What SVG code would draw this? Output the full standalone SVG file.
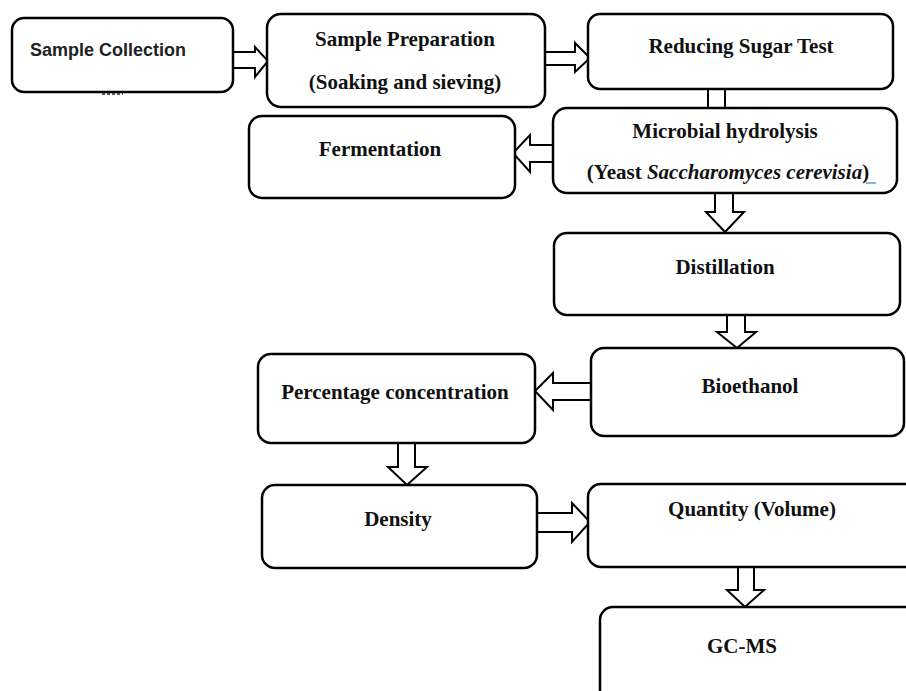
<svg xmlns="http://www.w3.org/2000/svg" width="906" height="691" viewBox="0 0 906 691">
<style>
.box{fill:#fff;stroke:#000;stroke-width:2.5}
.arr{fill:#fff;stroke:#000;stroke-width:2;stroke-linejoin:miter}
.t{font-family:"Liberation Serif","Times New Roman",serif;font-weight:bold;font-size:21px;fill:#111;text-anchor:middle}
.s{font-family:"Liberation Sans",Arial,sans-serif;font-weight:bold;font-size:18px;fill:#222}
</style>
<rect width="906" height="691" fill="#fff"/>
<g id="connectors">
<path class="arr" d="M233,52 H255 V47 L268,61 L255,77 V68 H233 Z"/>
<path class="arr" d="M545,52 H575 V43 L590,58 L575,72 V65 H545 Z"/>
<rect class="arr" x="708" y="88" width="17" height="20"/>
<path class="arr" d="M553,145 H530 V135 L513,153 L530,172 V162 H553 Z"/>
<path class="arr" d="M715,193 V212 H706 L725,232 L744,212 H733 V193 Z"/>
<path class="arr" d="M727,315 V332 H717 L737,348 L756,332 H745 V315 Z"/>
<path class="arr" d="M591,383 H553 V373 L535,391 L553,410 V400 H591 Z"/>
<path class="arr" d="M398,443 V467 H388 L407,485 L427,467 H415 V443 Z"/>
<path class="arr" d="M537,513 H572 V503 L590,522 L572,542 V532 H537 Z"/>
<path class="arr" d="M738,567 V590 H727 L745,607 L764,590 H754 V567 Z"/>
</g>
<g id="sample-collection">
<rect class="box" x="12" y="18" width="221" height="74" rx="12"/>
<text class="s" x="30" y="56">Sample Collection</text>
<line x1="102" y1="94" x2="123" y2="94" stroke="#555" stroke-width="2" stroke-dasharray="3,2"/>
</g>
<g id="sample-preparation">
<rect class="box" x="267" y="14" width="278" height="93" rx="14"/>
<text class="t" x="405" y="46">Sample Preparation</text>
<text class="t" x="405" y="89">(Soaking and sieving)</text>
</g>
<g id="reducing-sugar">
<rect class="box" x="588" y="14" width="305" height="75" rx="12"/>
<text class="t" x="741" y="53">Reducing Sugar Test</text>
</g>
<g id="microbial-hydrolysis">
<rect class="box" x="553" y="108" width="344" height="85" rx="14"/>
<text class="t" x="725" y="138">Microbial hydrolysis</text>
<text class="t" x="728" y="179">(Yeast <tspan font-style="italic">Saccharomyces cerevisia</tspan>)</text>
<line x1="866" y1="183" x2="876" y2="183" stroke="#3a5a9a" stroke-width="1"/>
</g>
<g id="fermentation">
<rect class="box" x="249" y="116" width="266" height="82" rx="13"/>
<text class="t" x="380" y="156">Fermentation</text>
</g>
<g id="distillation">
<rect class="box" x="554" y="233" width="346" height="82" rx="13"/>
<text class="t" x="725" y="274">Distillation</text>
</g>
<g id="bioethanol">
<rect class="box" x="591" y="348" width="313" height="88" rx="13"/>
<text class="t" x="750" y="393">Bioethanol</text>
</g>
<g id="percentage-concentration">
<rect class="box" x="258" y="354" width="277" height="89" rx="13"/>
<text class="t" x="395" y="399">Percentage concentration</text>
</g>
<g id="density">
<rect class="box" x="262" y="485" width="275" height="83" rx="13"/>
<text class="t" x="398" y="526">Density</text>
</g>
<g id="quantity">
<rect class="box" x="588" y="484" width="340" height="83" rx="13"/>
<text class="t" x="752" y="516">Quantity (Volume)</text>
</g>
<g id="gc-ms">
<rect class="box" x="600" y="607" width="330" height="100" rx="13"/>
<text class="t" x="742" y="653">GC-MS</text>
</g>
</svg>
